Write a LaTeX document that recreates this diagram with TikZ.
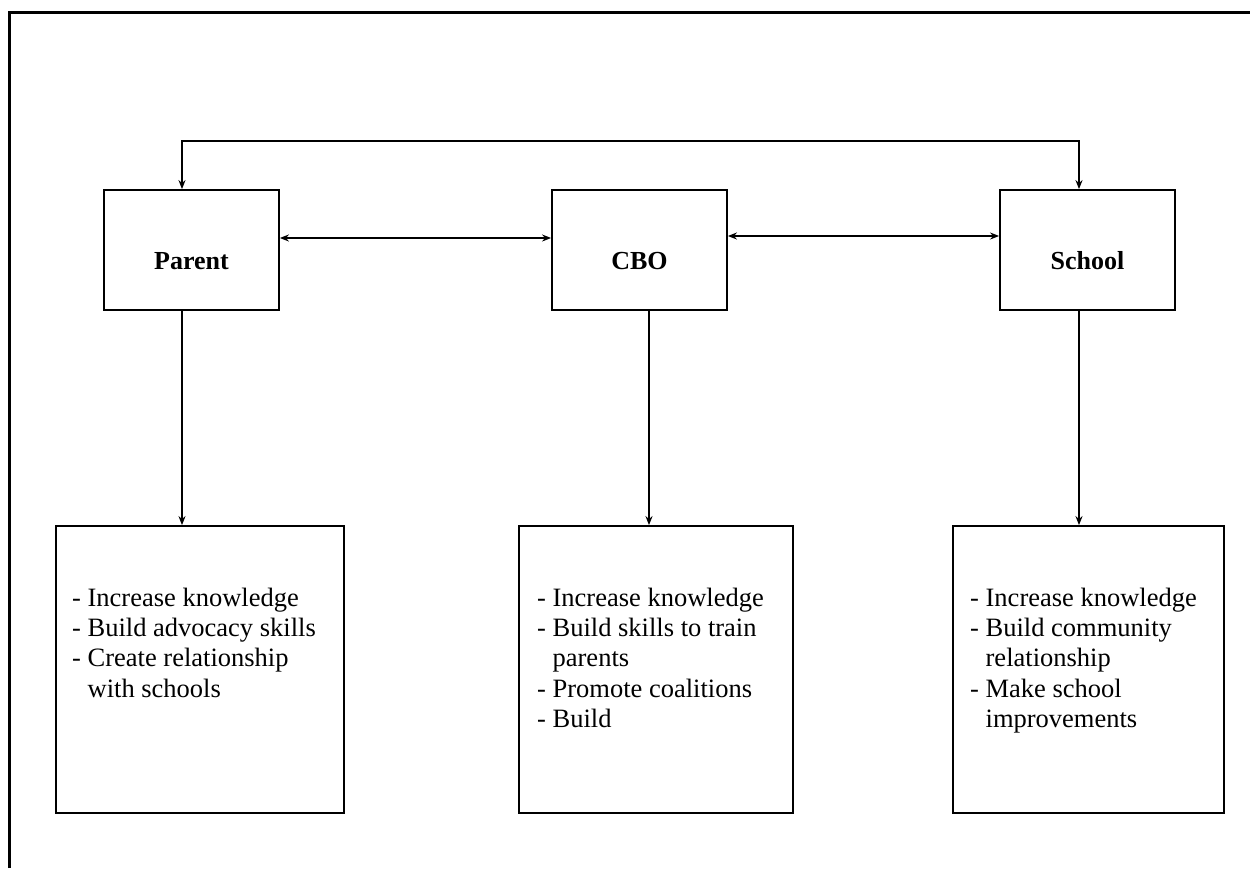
\documentclass[tikz,border=0pt]{standalone}
\usepackage{fontspec}
\setmainfont{Liberation Serif}
\usetikzlibrary{arrows.meta}
\newcommand{\toplabel}[1]{\raisebox{-19pt}[0pt][0pt]{#1}}
\newcommand{\cont}{\hphantom{- }}
\begin{document}
\begin{tikzpicture}[x=1pt,y=-1pt,
  topbox/.style={draw, line width=1.8pt, minimum width=175pt, minimum height=120pt, inner sep=0pt,
    font=\fontsize{26}{30}\selectfont\bfseries},
  botbox/.style={draw, line width=1.8pt, minimum height=287pt, inner sep=0pt},
  bodytext/.style={anchor=north west, inner sep=0pt, align=left,
    font=\fontsize{26.5}{30.2}\selectfont},
  link/.style={line width=1.8pt, -{Stealth[length=9pt,width=7pt]}},
  dlink/.style={line width=1.8pt, {Stealth[length=9pt,width=7pt]}-{Stealth[length=9pt,width=7pt]}},
  frame/.style={line width=3pt}]
\useasboundingbox (0,0) rectangle (1250,868);
\draw[frame] (9,868) -- (9,12) -- (1250,12);

\node[topbox] (parent) at (191.5,250) {\toplabel{Parent}};
\node[topbox] (cbo) at (639.5,250) {\toplabel{CBO}};
\node[topbox] (school) at (1087.5,250) {\toplabel{School}};

\node[botbox, minimum width=288pt] (pbox) at (200,669.5) {};
\node[botbox, minimum width=274pt] (cbox) at (656,669.5) {};
\node[botbox, minimum width=271pt] (sbox) at (1088.5,669.5) {};

\node[bodytext] (ptext) at (72,588) {- Increase knowledge\\- Build advocacy skills\\- Create relationship\\\cont with schools};
\node[bodytext] (ctext) at (537,588) {- Increase knowledge\\- Build skills to train\\\cont parents\\- Promote coalitions\\- Build};
\node[bodytext] (stext) at (970,588) {- Increase knowledge\\- Build community\\\cont relationship\\- Make school\\\cont improvements};

\draw[dlink] ([xshift=-9.5pt]parent.north) -- ++(0,-48) -| ([xshift=-8.5pt]school.north);
\draw[dlink] ([yshift=12pt]parent.east) -- ([yshift=12pt]cbo.west);
\draw[dlink] ([yshift=14pt]cbo.east) -- ([yshift=14pt]school.west);

\draw[link] ([xshift=-9.5pt]parent.south) -- ([xshift=-9.5pt]parent.south |- pbox.north);
\draw[link] ([xshift=9.5pt]cbo.south) -- ([xshift=9.5pt]cbo.south |- cbox.north);
\draw[link] ([xshift=-8.5pt]school.south) -- ([xshift=-8.5pt]school.south |- sbox.north);
\end{tikzpicture}
\end{document}
